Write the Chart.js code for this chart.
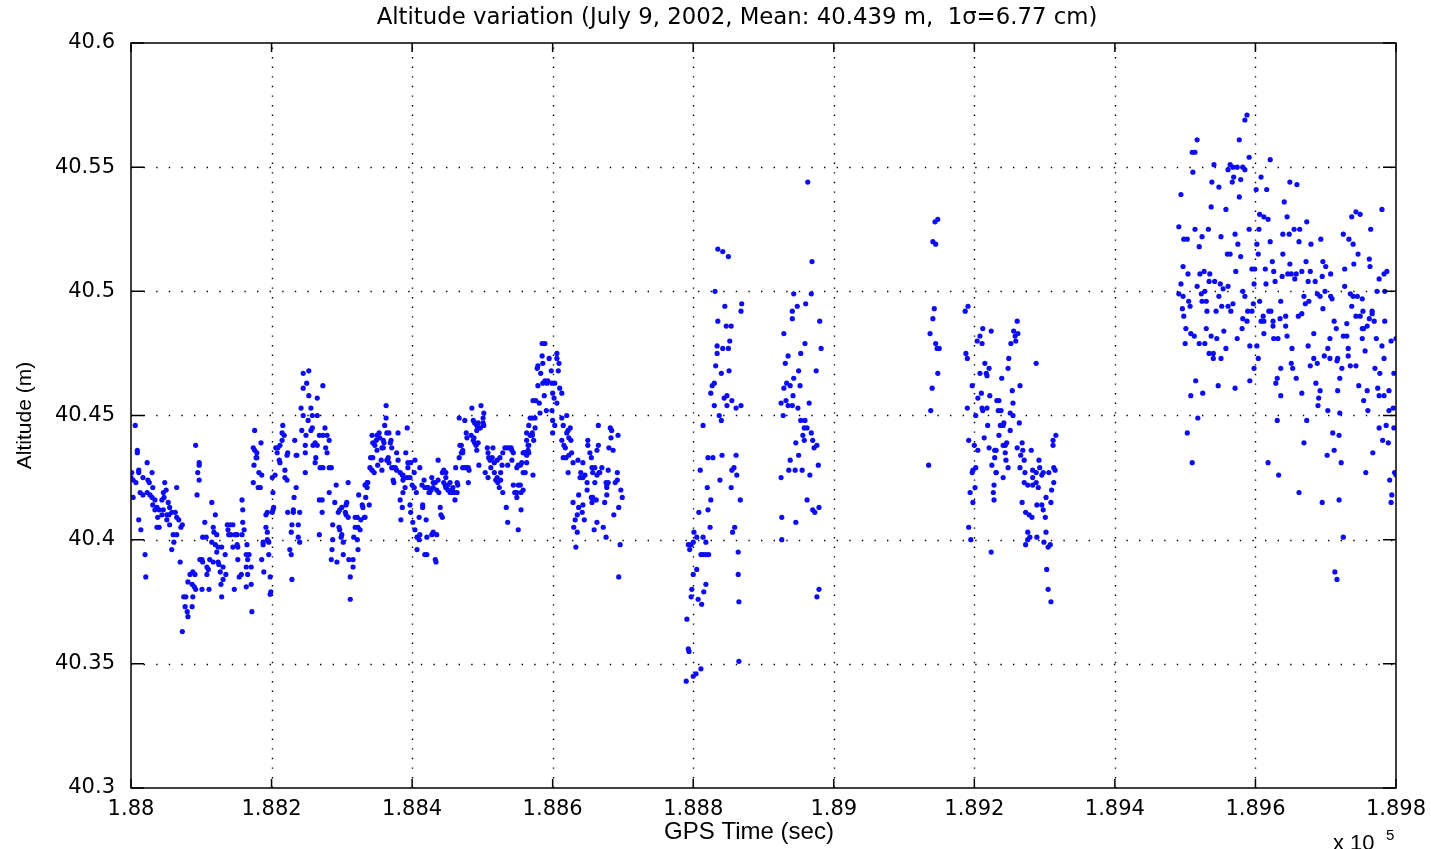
<!DOCTYPE html>
<html>
<head>
<meta charset="utf-8">
<title>Altitude variation</title>
<script src="https://cdn.jsdelivr.net/npm/chart.js@4.4.1/dist/chart.umd.min.js"></script>
<style>
  html, body { margin: 0; padding: 0; background: #fff; }
  #wrap { width: 1431px; height: 849px; }
</style>
</head>
<body>
<div id="wrap"><canvas id="altChart" width="1431" height="849"></canvas></div>
<script>
// Texte
const titleText = 'Altitude variation (July 9, 2002, Mean: 40.439 m,  1\u03c3=6.77 cm)';
const xTitle = 'GPS Time (sec)';
const yTitle = 'Altitude (m)';

// Ticks
const xTickValues = [188000, 188200, 188400, 188600, 188800, 189000, 189200, 189400, 189600, 189800];
const xTickLabels = ['1.88', '1.882', '1.884', '1.886', '1.888', '1.89', '1.892', '1.894', '1.896', '1.898'];
const yTickValues = [40.3, 40.35, 40.4, 40.45, 40.5, 40.55, 40.6];
const yTickLabels = ['40.3', '40.35', '40.4', '40.45', '40.5', '40.55', '40.6'];

// GPS time (s), altitude (m) - pass 1, first half
const pass1a = [
[188006,40.446],[188009,40.436],[188009,40.435],[188023,40.431],[188001,40.427],[188011,40.428],[188011,40.427],[188000,40.425],[188003,40.424],[188007,40.423],
[188017,40.425],[188024,40.424],[188030,40.427],[188026,40.423],[188013,40.419],[188017,40.418],[188023,40.419],[188027,40.418],[188031,40.421],[188030,40.417],
[188003,40.417],[188034,40.416],[188031,40.414],[188037,40.413],[188034,40.412],[188040,40.412],[188048,40.423],[188050,40.420],[188046,40.419],[188044,40.416],
[188047,40.417],[188053,40.415],[188055,40.413],[188046,40.412],[188044,40.410],[188038,40.409],[188037,40.405],[188040,40.405],[188051,40.410],[188054,40.410],
[188058,40.411],[188063,40.411],[188065,40.409],[188068,40.408],[188051,40.408],[188055,40.406],[188060,40.402],[188065,40.402],[188061,40.399],[188058,40.396],
[188065,40.421],[188073,40.406],[188071,40.405],[188070,40.391],[188011,40.408],[188014,40.404],[188020,40.394],[188021,40.385],[188075,40.377],[188078,40.377],
[188077,40.373],[188080,40.371],[188081,40.369],[188088,40.377],[188087,40.373],[188073,40.363],[188084,40.386],[188088,40.387],[188091,40.386],[188081,40.383],
[188087,40.382],[188090,40.381],[188092,40.380],[188101,40.392],[188102,40.391],[188098,40.392],[188110,40.388],[188108,40.386],[188111,40.380],[188101,40.380],
[188105,40.407],[188102,40.401],[188107,40.401],[188112,40.392],[188108,40.389],[188117,40.391],[188092,40.438],[188097,40.431],[188097,40.430],[188095,40.427],
[188097,40.424],[188094,40.418],[188115,40.415],[188120,40.410],[188117,40.405],[188118,40.403],[188122,40.402],[188115,40.399],[188120,40.398],[188124,40.397],
[188122,40.395],[188129,40.397],[188124,40.391],[188125,40.390],[188131,40.389],[188127,40.387],[188135,40.386],[188131,40.384],[188128,40.382],[188129,40.377],
[188134,40.394],[188137,40.406],[188141,40.406],[188145,40.406],[188138,40.404],[188142,40.402],[188148,40.402],[188151,40.402],[188139,40.402],[188145,40.397],
[188151,40.398],[188152,40.397],[188158,40.402],[188161,40.404],[188159,40.407],[188158,40.416],[188159,40.412],[188147,40.380],[188152,40.392],[188154,40.385],
[188157,40.386],[188164,40.394],[188165,40.398],[188168,40.394],[188166,40.392],[188164,40.389],[188166,40.386],[188171,40.389],[188164,40.381],[188171,40.382],
[188172,40.371],[188176,40.444],[188174,40.437],[188176,40.436],[188179,40.435],[188185,40.439],[188178,40.433],[188179,40.433],[188175,40.430],[188182,40.427],
[188186,40.426],[188174,40.423],[188181,40.421],[188184,40.421],[188188,40.399],[188188,40.398],[188194,40.400],[188196,40.399],[188196,40.394],[188192,40.405],
[188194,40.403],[188186,40.392],[188189,40.387],[188198,40.385],[188199,40.379],[188198,40.378],[188192,40.410],[188194,40.411],[188201,40.411],[188202,40.412],
[188203,40.413],[188202,40.419],[188201,40.425],[188205,40.426],[188206,40.437],[188208,40.435],[188209,40.437],[188212,40.438],[188215,40.440],[188215,40.443],
[188216,40.446],[188218,40.442],[188211,40.432],[188212,40.431],[188219,40.428],[188219,40.425],[188222,40.424],[188222,40.434],[188223,40.435],[188233,40.440],
[188235,40.434],[188236,40.434],[188223,40.411],[188226,40.396],[188228,40.394],[188229,40.384],[188228,40.403],[188231,40.412],[188231,40.411],[188235,40.421],
[188232,40.417],[188240,40.411],[188229,40.406],[188238,40.406],[188238,40.401],[188240,40.399],[188248,40.427],
[188245,40.467],[188253,40.468],[188250,40.463],[188245,40.461],[188253,40.458],[188256,40.453],[188242,40.453],[188245,40.450],[188252,40.448],[188258,40.450],
[188265,40.450],[188243,40.444],[188249,40.442],[188256,40.444],[188258,40.445],[188248,40.438],[188248,40.435],[188259,40.438],[188262,40.439],[188265,40.438],
[188268,40.442],[188263,40.433],[188262,40.431],[188265,40.457],[188273,40.462],[188269,40.429],[188273,40.429],[188282,40.429],[188285,40.429],[188273,40.442],
[188276,40.445],[188279,40.442],[188282,40.440],[188277,40.437],[188279,40.435],[188268,40.416],[188272,40.416],[188272,40.411],[188268,40.402],[188282,40.419],
[188287,40.406],[188287,40.400],[188286,40.396],[188285,40.392],[188293,40.391],[188302,40.394],[188292,40.422],[188290,40.415],[188295,40.411],[188297,40.412],
[188296,40.405],[188297,40.404],[188300,40.402],[188299,40.401],[188302,40.399],[188307,40.415],[188309,40.423],[188306,40.410],[188309,40.409],[188310,40.392],
[188312,40.385],[188312,40.376],[188300,40.413],[188306,40.414],[188305,40.411],[188316,40.392],[188316,40.389]
];

// pass 1, second half
const pass1b = [
[188319,40.409],[188322,40.409],[188319,40.405],[188323,40.405],[188326,40.404],[188322,40.400],[188323,40.396],[188317,40.401],[188324,40.418],[188329,40.414],
[188330,40.413],[188332,40.409],[188333,40.409],[188327,40.408],[188334,40.417],[188339,40.414],[188333,40.422],[188336,40.423],[188337,40.423],[188336,40.421],
[188340,40.429],[188343,40.428],[188346,40.427],[188341,40.433],[188344,40.433],[188343,40.442],[188344,40.439],[188347,40.438],[188349,40.440],[188350,40.442],
[188353,40.443],[188354,40.441],[188350,40.436],[188357,40.437],[188359,40.437],[188360,40.439],[188359,40.440],[188363,40.454],[188363,40.449],[188361,40.446],
[188364,40.443],[188367,40.443],[188370,40.440],[188371,40.437],[188369,40.439],[188356,40.432],[188357,40.428],[188351,40.430],[188364,40.432],[188366,40.433],
[188367,40.431],[188371,40.429],[188373,40.429],[188376,40.429],[188373,40.424],[188374,40.423],[188378,40.428],[188380,40.432],[188378,40.435],[188380,40.443],
[188393,40.445],[188391,40.435],[188383,40.427],[188386,40.426],[188387,40.426],[188388,40.425],[188387,40.424],[188390,40.421],[188393,40.425],[188394,40.429],
[188397,40.425],[188394,40.431],[188398,40.431],[188403,40.427],[188404,40.432],[188411,40.429],[188383,40.416],[188386,40.413],[188384,40.408],[188387,40.419],
[188397,40.414],[188398,40.411],[188401,40.407],[188400,40.422],[188403,40.421],[188406,40.419],[188404,40.404],[188407,40.401],[188410,40.400],[188407,40.396],
[188411,40.402],[188410,40.409],[188415,40.413],[188415,40.414],[188414,40.422],[188418,40.421],[188417,40.424],[188421,40.421],[188423,40.421],[188425,40.419],
[188428,40.425],[188430,40.423],[188433,40.423],[188424,40.419],[188430,40.421],[188437,40.424],[188437,40.432],[188435,40.420],[188438,40.419],[188420,40.408],
[188427,40.420],[188418,40.394],[188421,40.394],[188433,40.392],[188434,40.391],[188430,40.403],[188435,40.402],[188428,40.402],[188421,40.401],[188440,40.413],
[188441,40.410],[188443,40.409],[188443,40.427],[188445,40.428],[188448,40.427],[188448,40.425],[188445,40.423],[188447,40.422],[188448,40.421],[188451,40.422],
[188451,40.420],[188454,40.419],[188457,40.420],[188454,40.423],[188458,40.421],[188461,40.419],[188458,40.419],[188461,40.416],[188464,40.423],[188462,40.429],
[188465,40.422],[188464,40.419],[188467,40.433],[188470,40.435],[188472,40.435],[188472,40.436],[188468,40.438],[188470,40.438],[188467,40.449],[188475,40.448],
[188477,40.443],[188478,40.441],[188484,40.442],[188485,40.453],[188487,40.448],[188489,40.447],[188492,40.446],[188494,40.447],[188492,40.444],[188497,40.445],
[188501,40.447],[188498,40.454],[188502,40.451],[188501,40.449],[188502,40.446],[188494,40.439],[188487,40.440],[188489,40.439],[188491,40.438],[188492,40.436],
[188488,40.441],[188472,40.429],[188475,40.429],[188478,40.429],[188480,40.429],[188481,40.428],[188480,40.423],[188495,40.430],[188504,40.427],[188507,40.437],
[188508,40.435],[188509,40.433],[188511,40.432],[188514,40.433],[188515,40.437],[188508,40.425],[188512,40.429],[188517,40.427],[188519,40.424],[188521,40.425],
[188522,40.423],[188526,40.424],[188524,40.421],[188517,40.431],[188521,40.432],[188525,40.433],[188529,40.435],[188532,40.437],[188535,40.437],[188538,40.437],
[188541,40.437],[188542,40.436],[188544,40.435],[188542,40.432],[188536,40.430],[188528,40.430],[188529,40.419],[188526,40.427],[188534,40.413],[188536,40.407],
[188544,40.422],[188546,40.419],[188549,40.417],[188549,40.419],[188551,40.422],[188554,40.422],[188555,40.419],[188558,40.420],[188551,40.404],[188555,40.412],
[188549,40.429],[188551,40.430],[188554,40.430],[188556,40.431],[188558,40.435],[188561,40.435],[188563,40.435],[188565,40.436],[188566,40.438],[188563,40.440],
[188558,40.427],[188561,40.427],[188572,40.426],[188568,40.442],[188571,40.443],[188575,40.445],[188573,40.440],[188566,40.446],
[188585,40.479],[188589,40.479],[188585,40.474],[188595,40.473],[188606,40.475],[188606,40.473],[188609,40.471],[188608,40.468],[188579,40.470],[188578,40.469],
[188586,40.471],[188583,40.467],[188598,40.468],[188589,40.464],[188593,40.464],[188599,40.463],[188586,40.463],[188592,40.463],[188603,40.463],[188579,40.462],
[188610,40.461],[188613,40.459],[188600,40.459],[188588,40.458],[188572,40.456],[188576,40.456],[188581,40.455],[188602,40.457],[188606,40.455],[188591,40.452],
[188599,40.452],[188582,40.451],[188575,40.449],[188571,40.449],[188568,40.449],[188600,40.448],[188603,40.446],[188600,40.443],[188613,40.449],[188620,40.450],
[188615,40.446],[188563,40.443],[188571,40.442],[188565,40.438],[188566,40.435],[188559,40.435],[188563,40.434],[188563,40.431],
[188625,40.445],[188622,40.444],[188620,40.443],[188623,40.441],[188626,40.440],[188613,40.440],[188616,40.438],[188618,40.437],[188615,40.433],[188619,40.433],
[188623,40.434],[188627,40.435],[188629,40.431],[188622,40.427],[188636,40.432],[188643,40.431],[188640,40.427],[188646,40.426],[188643,40.425],[188639,40.425],
[188649,40.423],[188637,40.413],[188643,40.414],[188642,40.411],[188635,40.410],[188632,40.408],[188630,40.405],[188635,40.403],[188645,40.408],[188637,40.418],
[188629,40.415],[188633,40.397],[188650,40.440],[188650,40.438],[188653,40.435],[188655,40.433],[188665,40.438],[188663,40.436],[188665,40.446],[188656,40.429],
[188660,40.429],[188657,40.427],[188655,40.417],[188657,40.417],[188660,40.423],[188663,40.426],[188666,40.427],[188670,40.429],[188667,40.427],[188649,40.420],
[188656,40.415],[188662,40.416],[188663,40.407],[188659,40.404],[188672,40.405],[188676,40.401],[188674,40.415],[188677,40.418],[188677,40.421],[188676,40.423],
[188679,40.423],[188679,40.428],[188677,40.422],[188682,40.445],[188684,40.444],[188683,40.441],[188693,40.442],[188680,40.437],[188686,40.436],[188689,40.423],
[188692,40.424],[188692,40.427],[188697,40.420],[188699,40.417],[188694,40.413],[188687,40.410],[188696,40.398],[188694,40.385]
];

// pass 2
const pass2 = [
[188835,40.517],[188842,40.516],[188850,40.514],[188831,40.500],[188845,40.494],[188869,40.495],[188868,40.492],[188835,40.488],[188847,40.486],[188854,40.486],
[188852,40.480],[188834,40.478],[188842,40.477],[188850,40.477],[188834,40.475],[188832,40.470],[188840,40.467],[188851,40.468],[188830,40.463],[188827,40.462],
[188825,40.459],[188848,40.458],[188844,40.457],[188855,40.456],[188830,40.454],[188848,40.454],[188861,40.453],[188868,40.454],[188837,40.450],[188840,40.448],
[188814,40.446],[188821,40.433],[188828,40.433],[188841,40.434],[188861,40.434],[188810,40.428],[188855,40.428],[188858,40.429],[188862,40.426],[188838,40.424],
[188820,40.421],[188854,40.421],[188825,40.416],[188867,40.416],[188808,40.411],[188821,40.412],[188824,40.405],[188859,40.405],[188856,40.403],[188801,40.403],
[188805,40.401],[188800,40.399],[188793,40.398],[188797,40.398],[188818,40.399],[188795,40.396],[188814,40.401],[188811,40.394],[188814,40.394],[188818,40.394],
[188822,40.394],[188864,40.395],[188805,40.388],[188800,40.386],[188864,40.386],[188818,40.382],[188815,40.379],[188798,40.380],[188797,40.377],[188807,40.376],
[188812,40.374],[188865,40.375],[188791,40.368],[188793,40.356],[188794,40.355],[188865,40.351],[188811,40.348],[188804,40.346],[188800,40.345],[188790,40.343]
];

// pass 3
const pass3 = [
[188963,40.544],[188969,40.512],[188943,40.499],[188968,40.499],[188960,40.495],[188948,40.494],[188941,40.492],[188941,40.489],[188980,40.488],[188929,40.483],
[188959,40.479],[188982,40.477],[188953,40.475],[188935,40.474],[188931,40.471],[188950,40.468],[188975,40.468],[188943,40.465],[188933,40.463],[188938,40.462],
[188952,40.462],[188929,40.461],[188942,40.458],[188932,40.456],[188925,40.455],[188965,40.455],[188935,40.454],[188941,40.454],[188949,40.453],[188928,40.450],
[188953,40.448],[188959,40.448],[188958,40.445],[188962,40.445],[188968,40.443],[188956,40.442],[188958,40.440],[188946,40.439],[188970,40.440],[188976,40.438],
[188972,40.437],[188950,40.434],[188938,40.432],[188936,40.428],[188945,40.428],[188955,40.428],[188978,40.430],[188966,40.426],[188925,40.425],[188962,40.416],
[188970,40.412],[188973,40.411],[188979,40.413],[188926,40.409],[188946,40.407],[188926,40.400],[188979,40.380],[188976,40.377]
];

// pass 4
const pass4 = [
[189148,40.529],[189144,40.528],[189141,40.520],[189145,40.519],[189143,40.493],[189141,40.489],[189137,40.483],[189145,40.479],[189147,40.477],[189150,40.477],
[189148,40.467],[189140,40.461],[189138,40.452],[189135,40.430],[189191,40.494],[189187,40.492],[189188,40.475],[189190,40.473],[189197,40.462],[189190,40.453],
[189202,40.450],[189192,40.440],[189200,40.438],[189205,40.436],[189202,40.429],[189198,40.428],[189197,40.427],[189201,40.421],[189194,40.419],[189198,40.415],
[189192,40.405],[189195,40.400],[189212,40.485],[189224,40.484],[189208,40.482],[189211,40.479],[189204,40.480],[189215,40.471],[189221,40.469],[189208,40.467],
[189217,40.467],[189218,40.466],[189210,40.459],[189205,40.457],[189222,40.458],[189211,40.453],[189212,40.452],[189218,40.453],[189219,40.446],[189214,40.441],
[189221,40.437],[189229,40.436],[189229,40.433],[189225,40.430],[189231,40.427],[189228,40.422],[189227,40.419],[189228,40.416],[189224,40.395],[189232,40.456],
[189235,40.456],[189234,40.452],[189238,40.452],[189239,40.465],[189251,40.451],[189255,40.450],[189254,40.460],[189255,40.455],[189261,40.488],[189256,40.484],
[189258,40.482],[189262,40.483],[189259,40.480],[189252,40.479],[189249,40.473],[189248,40.469],[189265,40.462],[189237,40.446],[189242,40.447],[189241,40.446],
[189251,40.444],[189235,40.442],[189244,40.438],[189246,40.439],[189241,40.438],[189231,40.436],[189244,40.435],[189245,40.432],[189248,40.429],[189241,40.425],
[189231,40.427],[189261,40.437],[189264,40.447],[189266,40.434],[189268,40.439],[189265,40.429],[189271,40.432],[189269,40.436],[189281,40.436],[189272,40.427],
[189271,40.423],[189268,40.415],[189288,40.471],[189283,40.428],[189288,40.427],[189292,40.432],[189293,40.429],[189298,40.427],[189296,40.426],[189283,40.425],
[189288,40.423],[189291,40.421],[189283,40.422],[189276,40.422],[189273,40.411],[189278,40.410],[189282,40.409],[189289,40.414],[189296,40.414],[189298,40.412],
[189301,40.409],[189309,40.415],[189310,40.420],[189313,40.423],[189315,40.428],[189313,40.429],[189306,40.427],[189316,40.442],[189312,40.440],[189312,40.438],
[189302,40.417],[189276,40.403],[189279,40.401],[189273,40.398],[189276,40.400],[189289,40.401],[189299,40.399],[189302,40.403],[189305,40.397],[189308,40.398],
[189303,40.388],[189305,40.380],[189309,40.375]
];

// pass 5
const pass5 = [
[189588,40.571],[189585,40.569],[189517,40.561],[189577,40.561],[189510,40.556],[189514,40.556],[189591,40.554],[189621,40.553],[189541,40.551],[189564,40.551],
[189561,40.549],[189568,40.550],[189574,40.550],[189582,40.550],[189585,40.549],[189511,40.548],[189569,40.546],[189567,40.544],[189579,40.545],[189538,40.544],
[189548,40.542],[189608,40.546],[189601,40.541],[189616,40.541],[189649,40.544],[189659,40.543],[189494,40.539],[189577,40.538],[189537,40.534],[189558,40.533],
[189641,40.536],[189606,40.531],[189612,40.530],[189618,40.529],[189645,40.530],[189743,40.532],[189737,40.530],[189749,40.531],[189780,40.533],
[189491,40.526],[189514,40.525],[189533,40.525],[189591,40.525],[189605,40.525],[189655,40.525],[189663,40.525],[189673,40.528],[189498,40.521],[189503,40.521],
[189524,40.522],[189551,40.522],[189571,40.523],[189575,40.519],[189520,40.518],[189602,40.519],[189621,40.520],[189639,40.523],[189648,40.523],[189662,40.520],
[189679,40.519],[189693,40.521],[189725,40.523],[189733,40.521],[189739,40.519],[189764,40.525],[189560,40.515],[189564,40.515],[189579,40.514],[189604,40.515],
[189639,40.515],[189746,40.515],[189762,40.513],[189763,40.510],[189497,40.510],[189504,40.507],[189521,40.507],[189527,40.508],[189535,40.507],[189572,40.508],
[189595,40.509],[189599,40.509],[189614,40.509],[189624,40.512],[189626,40.508],[189628,40.504],[189638,40.506],[189649,40.511],[189646,40.507],[189651,40.507],
[189656,40.505],[189658,40.507],[189666,40.508],[189672,40.512],[189678,40.508],[189675,40.504],[189685,40.504],[189696,40.512],[189700,40.510],[189695,40.506],
[189707,40.507],[189727,40.509],[189740,40.511],[189776,40.505],[189783,40.507],[189787,40.508],[189494,40.503],[189517,40.502],[189534,40.504],[189542,40.504],
[189550,40.503],[189554,40.501],[189561,40.502],[189598,40.503],[189615,40.503],[189727,40.502],
[189491,40.499],[189497,40.498],[189523,40.499],[189528,40.500],[189524,40.496],[189530,40.496],[189505,40.496],[189507,40.494],[189548,40.498],[189582,40.500],
[189585,40.498],[189568,40.495],[189561,40.494],[189552,40.494],[189597,40.495],[189606,40.496],[189636,40.496],[189669,40.498],[189676,40.496],[189671,40.495],
[189688,40.499],[189692,40.498],[189699,40.500],[189707,40.498],[189709,40.497],[189735,40.499],[189739,40.498],[189745,40.498],[189752,40.497],[189773,40.500],
[189784,40.500],[189496,40.493],[189498,40.490],[189531,40.492],[189544,40.492],[189565,40.492],[189582,40.489],[189588,40.488],[189589,40.492],[189595,40.492],
[189619,40.492],[189622,40.492],[189608,40.488],[189612,40.488],[189611,40.490],[189625,40.488],[189625,40.486],[189635,40.489],[189643,40.490],[189643,40.486],
[189661,40.490],[189666,40.491],[189696,40.493],[189712,40.488],[189715,40.485],[189730,40.487],[189737,40.494],[189743,40.490],[189749,40.490],[189753,40.492],
[189762,40.489],[189766,40.492],[189766,40.491],[189769,40.488],[189784,40.488],[189759,40.486],[189752,40.485],[189754,40.485],[189501,40.485],[189508,40.483],
[189513,40.482],[189530,40.485],[189537,40.482],[189545,40.481],[189555,40.484],[189574,40.481],[189581,40.485],[189612,40.483],[189626,40.481],[189632,40.481],
[189645,40.482],[189683,40.483],[189706,40.481],[189725,40.482],[189730,40.482],[189752,40.481],[189772,40.481],[189793,40.480],[189800,40.481],[189500,40.479],
[189520,40.479],[189528,40.479],[189534,40.475],[189540,40.475],[189540,40.473],[189551,40.473],[189558,40.477],[189602,40.478],[189592,40.478],[189604,40.473],
[189652,40.477],[189675,40.478],[189683,40.473],[189698,40.474],[189703,40.477],[189706,40.473],[189717,40.473],[189732,40.477],[189732,40.474],[189756,40.476],
[189780,40.478],[189783,40.473],[189598,40.469],[189636,40.469],[189651,40.471],[189653,40.469],[189688,40.471],[189678,40.470],[189716,40.472],[189723,40.469],
[189735,40.470],[189743,40.470],[189770,40.469],[189777,40.467],[189797,40.467],[189515,40.464],[189508,40.458],[189525,40.459],[189547,40.462],[189571,40.461],
[189592,40.464],[189631,40.465],[189629,40.463],[189636,40.458],[189658,40.465],[189666,40.459],[189686,40.463],[189692,40.460],[189690,40.457],[189689,40.454],
[189703,40.452],[189720,40.465],[189717,40.460],[189720,40.451],[189747,40.462],[189759,40.460],[189754,40.456],[189760,40.452],[189774,40.461],[189776,40.458],
[189783,40.458],[189790,40.460],[189790,40.452],[189796,40.453],[189518,40.449],[189503,40.443],[189510,40.431],[189631,40.448],[189673,40.448],[189710,40.443],
[189719,40.442],[189669,40.439],[189702,40.434],[189712,40.436],[189722,40.431],[189618,40.431],[189633,40.426],[189662,40.419],[189695,40.415],[189719,40.416],
[189725,40.401],[189713,40.387],[189716,40.384],[189757,40.427],[189767,40.435],[189776,40.445],[189786,40.446],[189797,40.445],[189781,40.440],[189789,40.439],
[189798,40.427],[189800,40.426],[189791,40.424],[189794,40.418],[189793,40.415]
];

const passes = [pass1a, pass1b, pass2, pass3, pass4, pass5];
const dotColor = 'rgb(12,12,245)';

function toPoints(arr) {
  return arr.map(p => ({ x: p[0], y: p[1] }));
}

// Rahmen, gepunktetes Gitter, Ticks nach innen, Titel
const framePlugin = {
  id: 'frame',
  beforeDatasetsDraw(chart) {
    const { ctx, chartArea: a, scales: { x, y } } = chart;
    ctx.save();
    ctx.strokeStyle = '#000';
    ctx.lineWidth = 1.4;
    ctx.setLineDash([1.4, 11.2]);
    yTickValues.slice(1, -1).forEach(v => {
      const py = Math.round(y.getPixelForValue(v)) + 0.5;
      ctx.beginPath();
      ctx.moveTo(a.left, py);
      ctx.lineTo(a.right, py);
      ctx.stroke();
    });
    ctx.setLineDash([1.4, 8.2]);
    xTickValues.slice(1, -1).forEach(v => {
      const px = Math.round(x.getPixelForValue(v)) + 0.5;
      ctx.beginPath();
      ctx.moveTo(px, a.bottom);
      ctx.lineTo(px, a.top);
      ctx.stroke();
    });
    ctx.restore();
  },
  afterDatasetsDraw(chart) {
    const { ctx, chartArea: a, scales: { x, y } } = chart;
    ctx.save();
    ctx.strokeStyle = '#000';
    ctx.lineWidth = 1.5;
    ctx.setLineDash([]);
    ctx.strokeRect(a.left, a.top, a.right - a.left, a.bottom - a.top);
    ctx.beginPath();
    yTickValues.forEach(v => {
      const py = y.getPixelForValue(v);
      ctx.moveTo(a.left, py); ctx.lineTo(a.left + 13, py);
      ctx.moveTo(a.right, py); ctx.lineTo(a.right - 13, py);
    });
    xTickValues.forEach(v => {
      const px = x.getPixelForValue(v);
      ctx.moveTo(px, a.bottom); ctx.lineTo(px, a.bottom - 9);
      ctx.moveTo(px, a.top); ctx.lineTo(px, a.top + 9);
    });
    ctx.stroke();
    ctx.restore();
  },
  afterDraw(chart) {
    const { ctx } = chart;
    ctx.save();
    ctx.fillStyle = '#000';
    ctx.textBaseline = 'alphabetic';
    ctx.textAlign = 'center';
    ctx.font = '22.8px "DejaVu Sans", sans-serif';
    ctx.fillText(titleText, 737, 24);
    // x-Achsentitel, etwas links von der Mitte wie im Original
    ctx.font = '24px "Liberation Sans", Arial, sans-serif';
    ctx.fillText(xTitle, 749, 839);
    ctx.textAlign = 'left';
    ctx.font = '22px "Liberation Sans", Arial, sans-serif';
    ctx.fillText('x 10', 1333, 850);
    ctx.font = '15px "Liberation Sans", Arial, sans-serif';
    ctx.fillText('5', 1386, 840);
    ctx.restore();
  }
};

const ctx = document.getElementById('altChart');
new Chart(ctx, {
  type: 'scatter',
  data: {
    datasets: passes.map(p => ({
      data: toPoints(p),
      backgroundColor: dotColor,
      borderWidth: 0,
      pointRadius: 2.6,
      pointHoverRadius: 2.6
    }))
  },
  options: {
    responsive: false,
    animation: false,
    devicePixelRatio: 1,
    layout: { padding: { top: 43, right: 35, left: 0, bottom: 0 } },
    plugins: {
      legend: { display: false },
      title: { display: false },
      tooltip: { enabled: false }
    },
    scales: {
      x: {
        type: 'linear',
        min: 188000,
        max: 189800,
        afterBuildTicks: s => { s.ticks = xTickValues.map(v => ({ value: v })); },
        afterFit: s => { s.height = 61; s.paddingLeft = 0; s.paddingRight = 0; },
        grid: { display: false, drawTicks: false },
        border: { display: false },
        ticks: {
          autoSkip: false,
          maxRotation: 0,
          padding: 9,
          color: '#000',
          font: { family: '"DejaVu Sans", sans-serif', size: 21 },
          callback: (v, i) => xTickLabels[i]
        },
        title: { display: false }
      },
      y: {
        type: 'linear',
        min: 40.3,
        max: 40.6,
        afterBuildTicks: s => { s.ticks = yTickValues.map(v => ({ value: v })); },
        afterFit: s => { s.width = 131; s.paddingTop = 0; s.paddingBottom = 0; },
        grid: { display: false, drawTicks: false },
        border: { display: false },
        ticks: {
          autoSkip: false,
          padding: 16,
          color: '#000',
          font: { family: '"DejaVu Sans", sans-serif', size: 21 },
          callback: (v, i) => yTickLabels[i]
        },
        title: {
          display: true,
          text: yTitle,
          color: '#000',
          font: { family: '"Liberation Sans", sans-serif', size: 21 },
          padding: { top: 13, bottom: 0 }
        }
      }
    }
  },
  plugins: [framePlugin]
});
</script>
</body>
</html>
